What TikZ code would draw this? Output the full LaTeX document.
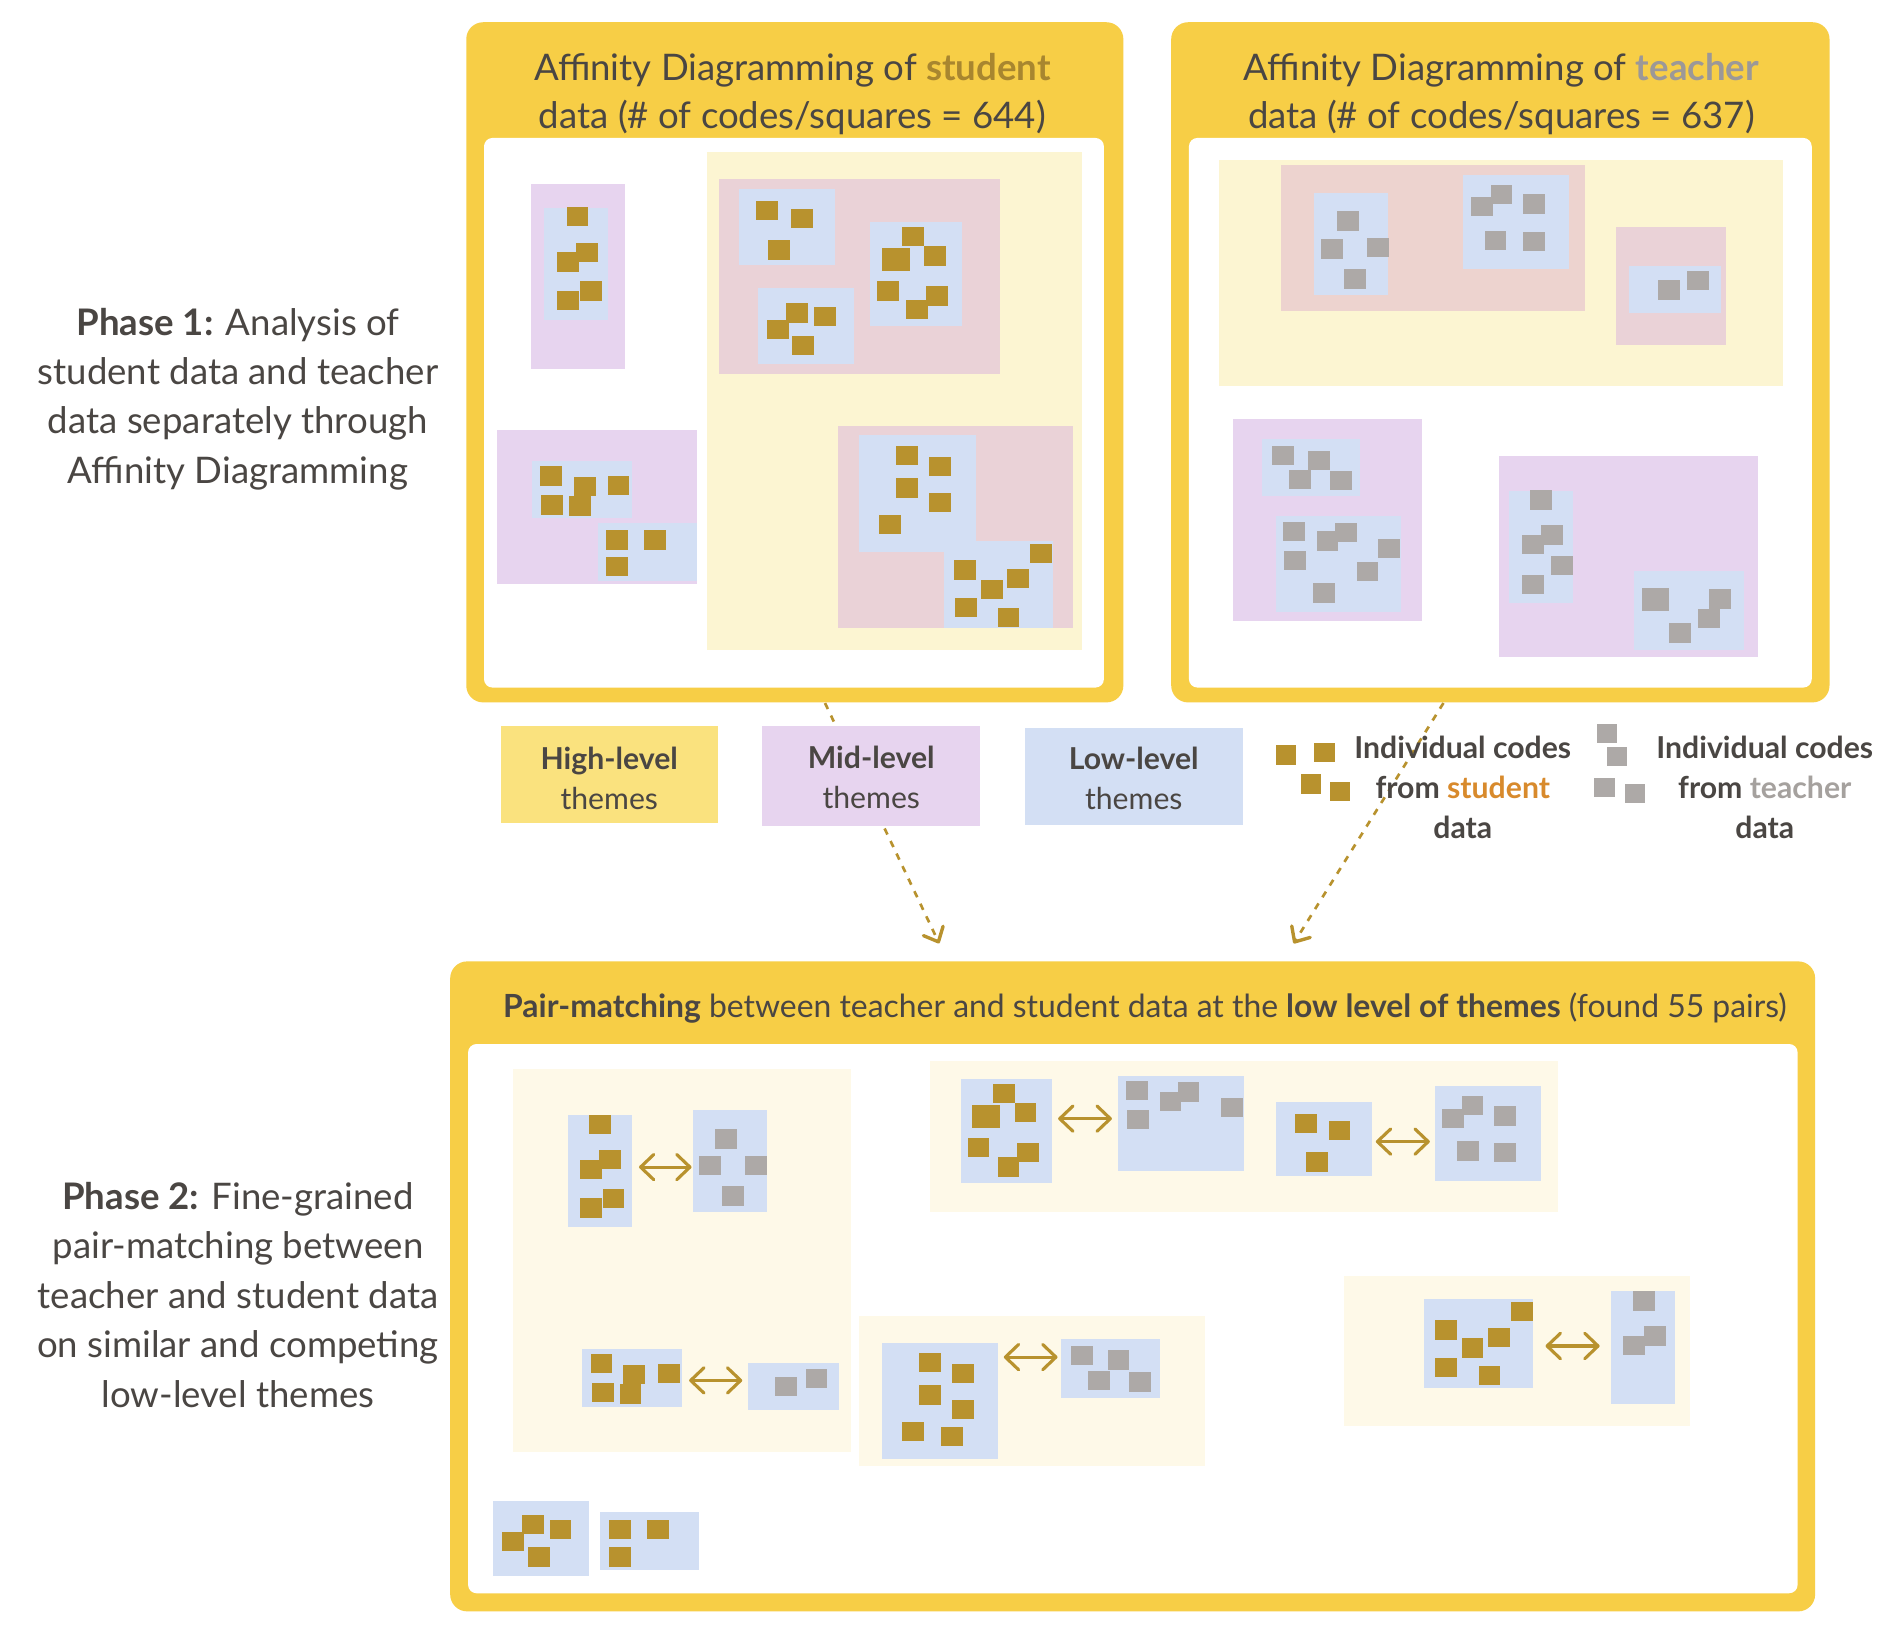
\documentclass[tikz,border=0pt]{standalone}
\usepackage{fontspec}
\setmainfont{Lato}
\usetikzlibrary{arrows.meta}
\definecolor{outerc}{HTML}{F7CE46}
\definecolor{hione}{HTML}{FCF5D2}
\definecolor{hitwo}{HTML}{FEF9E8}
\definecolor{hileg}{HTML}{FAE27E}
\definecolor{midc}{HTML}{E7D4EF}
\definecolor{lowc}{HTML}{D3DFF4}
\definecolor{pinkc}{HTML}{EAD2D7}
\definecolor{pinkt}{HTML}{EDD3CF}
\definecolor{stc}{HTML}{B8922E}
\definecolor{tcc}{HTML}{ADA9A7}
\definecolor{txtc}{HTML}{4A4643}
\definecolor{sttl}{HTML}{A8862F}
\definecolor{tttl}{HTML}{9C9898}
\definecolor{legs}{HTML}{D88A2C}
\definecolor{legt}{HTML}{A5A19E}
\definecolor{arrc}{HTML}{B8922E}
\newcommand\bx[5]{\fill[#1] (#2,#3) rectangle (#4,#5);}
\newcommand\stsq[2]{\fill[stc] (#1,#2) rectangle ++(18,16);}
\newcommand\tesq[2]{\fill[tcc] (#1,#2) rectangle ++(18,16);}
\newcommand\stbig[2]{\fill[stc] (#1,#2) rectangle ++(23,19);}
\newcommand\tebig[2]{\fill[tcc] (#1,#2) rectangle ++(23,19);}
\begin{document}
\begin{tikzpicture}[x=1pt,y=-1pt,
  ttl/.style={inner sep=0pt, anchor=base, text=txtc, font=\fontsize{30.3}{36}\selectfont},
  ttltwo/.style={inner sep=0pt, anchor=base west, text=txtc, font=\fontsize{26.4}{32}\selectfont},
  side/.style={inner sep=0pt, anchor=base, text=txtc, font=\fontsize{30.3}{36}\selectfont},
  leg/.style={inner sep=0pt, anchor=base, text=txtc, font=\fontsize{25}{30}\selectfont},
  legb/.style={inner sep=0pt, anchor=base, text=txtc, font=\fontsize{25}{30}\selectfont\bfseries},
  dbl/.style={draw=arrc, line width=2.6pt, line cap=round,
    {Straight Barb[length=11pt,width=21pt,round]}-{Straight Barb[length=11pt,width=21pt,round]}},
  dsh/.style={draw=arrc, line width=2.2pt, dash pattern=on 5.5pt off 6pt,
    -{Straight Barb[length=10pt,width=18pt,line width=2.8pt,round]}}]
\useasboundingbox (0,0) rectangle (1568,1353);
\fill[white] (0,0) rectangle (1568,1353);

% ---------- dashed arrows (behind legend) ----------
\coordinate (da1s) at (683,582);
\coordinate (da1e) at (777.5,781);
\coordinate (da2s) at (1195,582);
\coordinate (da2e) at (1071,781);
\draw[dsh] (da1s) -- (da1e);
\draw[dsh] (da2s) -- (da2e);

% ---------- student box ----------
\fill[outerc, rounded corners=14pt] (386,18.4) rectangle (930,581.5);
\fill[white, rounded corners=7pt] (400.7,114.2) rectangle (913.9,569.2);
\node[ttl] (st1) at (656,66.5) {Affinity Diagramming of {\bfseries\color{sttl}student}};
\node[ttl] (st2) at (656,106) {data (\# of codes/squares = 644)};
\bx{hione}{585.7}{125.8}{895.8}{538.4}
\bx{midc}{439.7}{152.5}{517.8}{305.2}
\bx{lowc}{450.5}{172.1}{503.5}{264.7}
\stsq{469}{171}\stsq{477}{201}\stsq{461}{209}\stsq{480}{233}\stsq{461}{241}
\bx{midc}{411.1}{355.8}{577}{483.5}
\bx{lowc}{440.7}{381.8}{523}{429.2}
\bx{lowc}{494.8}{432.8}{577}{481}
\stsq{447}{386}\stsq{475}{395}\stsq{503}{394}\stsq{448}{410}\stsq{471}{411}
\stsq{502}{439}\stsq{533}{439}\stsq{502}{461}
\bx{pinkc}{595.1}{147.8}{828.2}{309.9}
\bx{lowc}{611.5}{156.2}{690.9}{219.1}
\bx{lowc}{627.5}{238.6}{706.6}{301.2}
\bx{lowc}{720.2}{183.7}{796.1}{269.7}
\stsq{626}{166}\stsq{655}{173}\stsq{636}{199}
\stsq{651}{251}\stsq{674}{254}\stsq{635}{265}\stsq{656}{278}
\stsq{747}{188}\stbig{730}{205}\stsq{765}{204}\stsq{726}{233}\stsq{767}{237}\stsq{750}{248}
\bx{pinkc}{693.7}{352.9}{888.1}{519.6}
\bx{lowc}{710.8}{360.5}{807.6}{456.7}
\bx{lowc}{781.2}{448}{871.4}{519.6}
\stsq{742}{369}\stsq{769}{378}\stsq{742}{396}\stsq{769}{408}\stsq{728}{426}
\stsq{853}{450}\stsq{790}{464}\stsq{834}{471}\stsq{812}{480}\stsq{791}{495}\stsq{826}{503}

% ---------- teacher box ----------
\fill[outerc, rounded corners=14pt] (969.6,18.4) rectangle (1514.6,581.5);
\fill[white, rounded corners=7pt] (984.3,114.2) rectangle (1499.9,569.2);
\node[ttl] (tt1) at (1243,66.5) {Affinity Diagramming of {\bfseries\color{tttl}teacher}};
\node[ttl] (tt2) at (1243,106) {data (\# of codes/squares = 637)};
\bx{hione}{1009.1}{132.3}{1475.8}{319.3}
\bx{pinkt}{1060.5}{136.6}{1312.5}{257.4}
\bx{lowc}{1088.1}{159.4}{1149.3}{244.4}
\bx{lowc}{1211.2}{144.6}{1299.3}{222.7}
\tesq{1107}{175}\tesq{1094}{198}\tesq{1132}{197}\tesq{1113}{223}
\tesq{1234}{153}\tesq{1218}{163}\tesq{1261}{161}\tesq{1229}{191}\tesq{1261}{192}
\bx{pinkc}{1337.7}{188}{1428.6}{285.3}
\bx{lowc}{1348.9}{219.8}{1424.7}{258.9}
\tesq{1373}{232}\tesq{1397}{224}
\bx{midc}{1020.7}{347.1}{1177.6}{513.8}
\bx{lowc}{1044.4}{363.8}{1126.2}{410.8}
\bx{lowc}{1056}{427.4}{1160.1}{506.6}
\tesq{1053}{369}\tesq{1083}{373}\tesq{1067}{389}\tesq{1101}{390}
\tesq{1062}{432}\tesq{1105}{433}\tesq{1090}{440}\tesq{1141}{446}\tesq{1063}{456}\tesq{1123}{465}\tesq{1087}{483}
\bx{midc}{1240.9}{377.5}{1455.1}{544.2}
\bx{lowc}{1249.6}{406.1}{1302.4}{499.4}
\bx{lowc}{1353.1}{472.3}{1443.6}{538.4}
\tesq{1267}{406}\tesq{1276}{435}\tesq{1260}{443}\tesq{1284}{460}\tesq{1260}{476}
\tebig{1359}{487}\tesq{1415}{488}\tesq{1406}{504}\tesq{1382}{516}

% ---------- legend ----------
\bx{hileg}{414.6}{601.4}{594.2}{681.5}
\bx{midc}{631.1}{601.4}{811.5}{684.2}
\bx{lowc}{848.4}{602.5}{1028.8}{682.6}
\node[legb] (lh1) at (504.4,637) {High-level};
\node[leg] (lh2) at (504.4,670) {themes};
\node[legb] (lm1) at (721.3,636) {Mid-level};
\node[leg] (lm2) at (721.3,669) {themes};
\node[legb] (ll1) at (938.6,637) {Low-level};
\node[leg] (ll2) at (938.6,670) {themes};
\fill[stc] (1056,617) rectangle ++(17,16);
\fill[stc] (1088,615) rectangle ++(17,16);
\fill[stc] (1077,641) rectangle ++(17,16);
\fill[stc] (1101,647) rectangle ++(17,16);
\fill[tcc] (1322,599) rectangle ++(17,16);
\fill[tcc] (1330,618) rectangle ++(17,16);
\fill[tcc] (1320,644) rectangle ++(17,16);
\fill[tcc] (1345,649) rectangle ++(17,16);
\node[legb] (ls1) at (1211,628) {Individual codes};
\node[legb] (ls2) at (1211,661) {from {\color{legs}student}};
\node[legb] (ls3) at (1211,694) {data};
\node[legb] (lt1) at (1461,628) {Individual codes};
\node[legb] (lt2) at (1461,661) {from {\color{legt}teacher}};
\node[legb] (lt3) at (1461,694) {data};

% ---------- side texts ----------
\node[side] (pa1) at (197,278) {\textbf{Phase 1:} Analysis of};
\node[side] (pa2) at (197,318) {student data and teacher};
\node[side] (pa3) at (197,359) {data separately through};
\node[side] (pa4) at (197,400) {Affinity Diagramming};
\node[side] (pb1) at (197,1001) {\textbf{Phase 2:} Fine-grained};
\node[side] (pb2) at (197,1042) {pair-matching between};
\node[side] (pb3) at (197,1083) {teacher and student data};
\node[side] (pb4) at (197,1124) {on similar and competing};
\node[side] (pb5) at (197,1165) {low-level themes};

% ---------- phase 2 box ----------
\fill[outerc, rounded corners=14pt] (372.7,795.9) rectangle (1502.7,1334);
\fill[white, rounded corners=7pt] (387.5,864.3) rectangle (1488.2,1319);
\node[ttltwo] (p2t) at (416.4,842.6) {\textbf{Pair-matching} between teacher and student data at the \textbf{low level of themes} (found 55 pairs)};
% group 1
\bx{hitwo}{424.5}{884.7}{704.2}{1202.1}
\bx{lowc}{469.9}{923}{522.8}{1015.7}
\bx{lowc}{573.4}{918.8}{634.8}{1003.7}
\stsq{488}{923}\stsq{496}{952}\stsq{480}{960}\stsq{499}{984}\stsq{480}{992}
\tesq{592}{935}\tesq{579}{957}\tesq{617}{957}\tesq{598}{982}
\bx{lowc}{482.1}{1116.4}{564.2}{1164.5}
\bx{lowc}{618.9}{1128.7}{694.6}{1167.4}
\stsq{489}{1121}\stsq{516}{1130}\stsq{545}{1129}\stsq{490}{1145}\stsq{513}{1146}
\tesq{642}{1140}\tesq{667}{1133}
% group 2
\bx{hitwo}{770}{878.7}{1290}{1003.7}
\bx{lowc}{795.5}{893.1}{871.3}{979.5}
\bx{lowc}{925.6}{890.7}{1029.9}{969.7}
\bx{lowc}{1056.4}{912.4}{1135.9}{973.5}
\bx{lowc}{1187.6}{899.1}{1275.8}{977.4}
\stsq{822}{897}\stbig{805}{915}\stsq{840}{913}\stsq{801}{942}\stsq{842}{946}\stsq{826}{958}
\tesq{932}{895}\tesq{933}{919}\tesq{960}{904}\tesq{975}{896}\tesq{1011}{909}
\stsq{1072}{922}\stsq{1100}{928}\stsq{1081}{954}
\tesq{1210}{907}\tesq{1194}{918}\tesq{1237}{916}\tesq{1206}{945}\tesq{1237}{946}
% group 3
\bx{hitwo}{710.9}{1089.4}{997.4}{1213.7}
\bx{lowc}{730.1}{1111.9}{826.6}{1207.7}
\bx{lowc}{878}{1108.4}{960.3}{1157.2}
\stsq{761}{1120}\stsq{788}{1129}\stsq{761}{1147}\stsq{788}{1159}\stsq{747}{1177}\stsq{779}{1181}
\tesq{887}{1114}\tesq{917}{1118}\tesq{901}{1135}\tesq{935}{1136}
% group 4
\bx{hitwo}{1112.5}{1056.1}{1399.2}{1180.4}
\bx{lowc}{1178.8}{1075.7}{1269.2}{1148.8}
\bx{lowc}{1333.7}{1069}{1386.9}{1162.1}
\stsq{1251}{1078}\stsq{1188}{1093}\stsq{1232}{1099}\stsq{1210}{1108}\stsq{1188}{1124}\stsq{1224}{1131}
\tesq{1352}{1069}\tesq{1361}{1098}\tesq{1344}{1106}
% unmatched
\bx{lowc}{408.2}{1242.9}{487.7}{1305}
\bx{lowc}{496.5}{1252}{578.6}{1300.1}
\stsq{432}{1254}\stsq{455}{1258}\stsq{416}{1268}\stsq{437}{1281}
\stsq{504}{1258}\stsq{536}{1258}\stsq{504}{1281}
% pair arrows
\coordinate (pa1s) at (529,966.2);   \coordinate (pa1e) at (572.5,966.2);
\coordinate (pa2s) at (570.5,1142.8); \coordinate (pa2e) at (614.5,1142.8);
\coordinate (pa3s) at (876,926.1);   \coordinate (pa3e) at (920.5,926.1);
\coordinate (pa4s) at (1139,945.1);  \coordinate (pa4e) at (1183.7,945.1);
\coordinate (pa5s) at (831,1123.5);  \coordinate (pa5e) at (875.5,1123.5);
\coordinate (pa8s) at (1279.5,1114.3); \coordinate (pa8e) at (1324.3,1114.3);
\draw[dbl] (pa1s) -- (pa1e);
\draw[dbl] (pa2s) -- (pa2e);
\draw[dbl] (pa3s) -- (pa3e);
\draw[dbl] (pa4s) -- (pa4e);
\draw[dbl] (pa5s) -- (pa5e);
\draw[dbl] (pa8s) -- (pa8e);
\end{tikzpicture}
\end{document}
